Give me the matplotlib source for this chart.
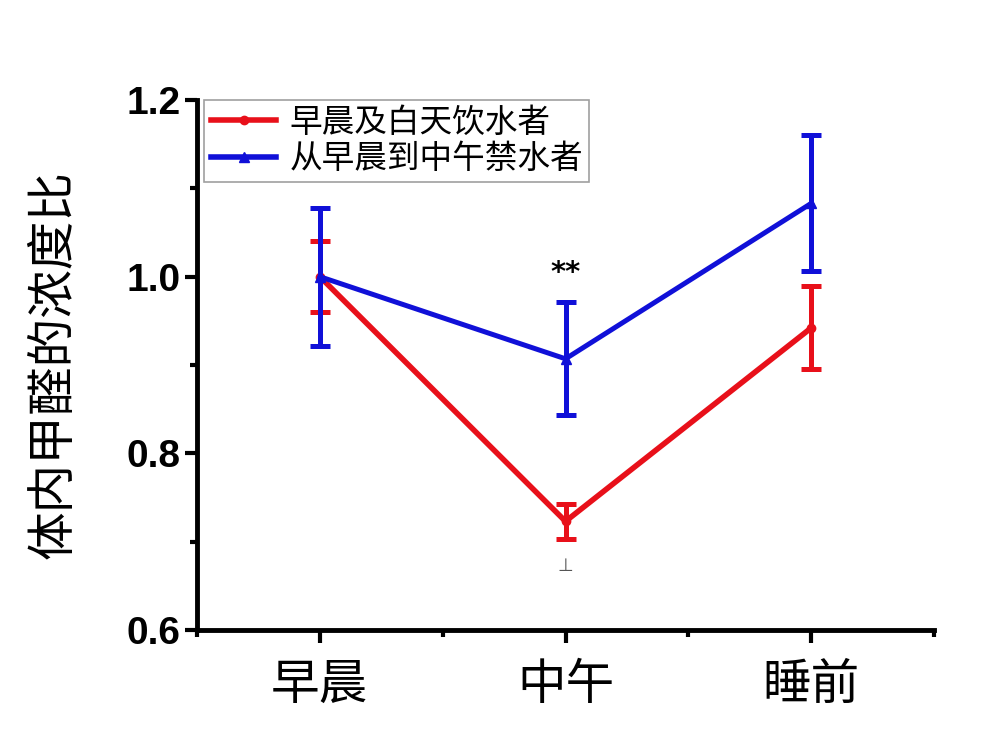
import matplotlib
matplotlib.use("Agg")
import matplotlib.pyplot as plt
from matplotlib.ticker import MultipleLocator, FixedLocator, FormatStrFormatter
from matplotlib.lines import Line2D

plt.rcParams['font.family'] = ['Noto Sans CJK SC', 'DejaVu Sans']

times = ["早晨", "中午", "睡前"]
x_pos = [1, 2, 3]

drink_mean = [1.000, 0.723, 0.942]
drink_err = [0.040, 0.020, 0.047]

fast_mean = [1.000, 0.907, 1.083]
fast_err = [0.078, 0.064, 0.077]

series_names = ["早晨及白天饮水者", "从早晨到中午禁水者"]
red = '#e8101a'
blue = '#1010d8'

fig = plt.figure(figsize=(10.01, 7.37), dpi=100)
ax = fig.add_axes([0.1968, 0.1452, 0.7363, 0.7191])

ax.errorbar(x_pos, drink_mean, yerr=drink_err, color=red, lw=4,
            marker='o', ms=6, capsize=7, capthick=3.6, elinewidth=3.6,
            zorder=3)
ax.errorbar(x_pos, fast_mean, yerr=fast_err, color=blue, lw=3.6,
            marker='^', ms=7, capsize=7, capthick=3.6, elinewidth=3.6,
            zorder=4)

ax.text(2, 1.004, "**", ha='center', va='center', fontsize=21,
        fontweight='bold', family='DejaVu Sans')
ax.text(2, 0.672, "⊥", ha='center', va='center', fontsize=13,
        color='#555555', family='DejaVu Sans')

ax.set_xlim(0.5, 3.5)
ax.set_ylim(0.6, 1.2)
ax.set_xticks(x_pos)
ax.set_xticklabels(times, fontsize=35)
ax.xaxis.set_minor_locator(FixedLocator([0.5, 1.5, 2.5, 3.5]))
ax.yaxis.set_major_locator(MultipleLocator(0.2))
ax.yaxis.set_minor_locator(MultipleLocator(0.1))
ax.yaxis.set_major_formatter(FormatStrFormatter('%.1f'))
for lab in ax.get_yticklabels():
    lab.set_family('Liberation Sans')
    lab.set_fontweight('bold')
    lab.set_fontsize(28)

ax.tick_params(axis='both', which='major', direction='out', length=9, width=3)
ax.tick_params(axis='both', which='minor', direction='out', length=5, width=3)
ax.tick_params(axis='x', which='major', pad=13)
ax.tick_params(axis='y', which='major', pad=3)

for side in ['top', 'right']:
    ax.spines[side].set_visible(False)
for side in ['left', 'bottom']:
    ax.spines[side].set_linewidth(3.5)

ax.set_ylabel("体内甲醛的浓度比", fontsize=35, labelpad=34)

handles = [Line2D([], [], color=red, lw=4, marker='o', ms=6),
           Line2D([], [], color=blue, lw=4, marker='^', ms=7)]
leg = ax.legend(handles, series_names, loc='upper left',
                bbox_to_anchor=(0.01, 1.0), fontsize=23.5,
                frameon=True, fancybox=False, edgecolor='#888888',
                handlelength=2.0, borderpad=0.2, labelspacing=0.15,
                handletextpad=0.4, borderaxespad=0.0)
leg.get_frame().set_linewidth(1.2)

fig.savefig("out.png", dpi=100)
